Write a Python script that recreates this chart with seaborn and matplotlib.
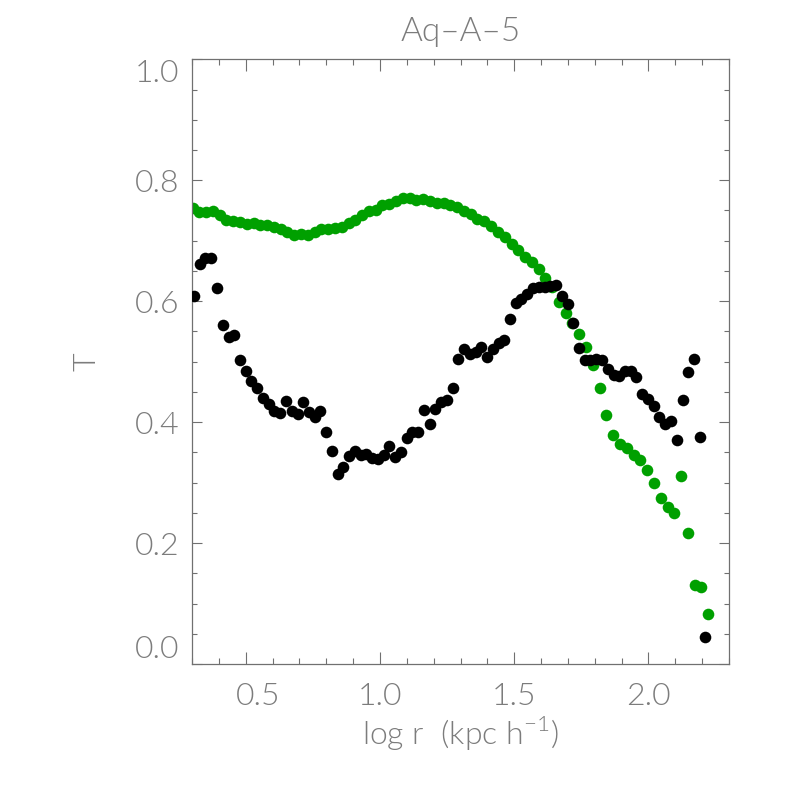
import numpy as np
import pandas as pd
import seaborn as sns
import matplotlib.pyplot as plt
from matplotlib.ticker import MultipleLocator
from matplotlib.transforms import ScaledTranslation

# green profile (log r, T)
logr_green = [0.302, 0.327, 0.352, 0.377, 0.403, 0.428, 0.453, 0.478, 0.504, 0.529,
              0.554, 0.580, 0.605, 0.630, 0.655, 0.681, 0.706, 0.731, 0.757, 0.782,
              0.807, 0.832, 0.858, 0.883, 0.908, 0.933, 0.959, 0.984, 1.009, 1.035,
              1.060, 1.085, 1.110, 1.136, 1.161, 1.186, 1.212, 1.237, 1.262, 1.287,
              1.313, 1.338, 1.363, 1.388, 1.414, 1.439, 1.464, 1.490, 1.515, 1.540,
              1.565, 1.591, 1.616, 1.641, 1.667, 1.692, 1.717, 1.742, 1.768, 1.793,
              1.818, 1.843, 1.869, 1.894, 1.919, 1.945, 1.970, 1.995, 2.020, 2.046,
              2.071, 2.096, 2.122, 2.147, 2.172, 2.197, 2.223]
T_green = [0.754, 0.748, 0.748, 0.749, 0.743, 0.734, 0.732, 0.731, 0.728, 0.729,
           0.726, 0.726, 0.723, 0.719, 0.715, 0.709, 0.711, 0.710, 0.715, 0.719,
           0.719, 0.721, 0.723, 0.729, 0.734, 0.743, 0.749, 0.751, 0.759, 0.760,
           0.765, 0.770, 0.771, 0.768, 0.769, 0.765, 0.763, 0.762, 0.759, 0.755,
           0.749, 0.744, 0.736, 0.732, 0.725, 0.715, 0.706, 0.695, 0.684, 0.673,
           0.665, 0.653, 0.639, 0.624, 0.598, 0.581, 0.564, 0.546, 0.525, 0.495,
           0.456, 0.412, 0.379, 0.364, 0.358, 0.346, 0.337, 0.321, 0.299, 0.275,
           0.260, 0.250, 0.311, 0.217, 0.131, 0.127, 0.083]

# black profile (log r, T)
logr_black = [0.307, 0.329, 0.350, 0.372, 0.393, 0.414, 0.436, 0.457, 0.479, 0.500,
              0.521, 0.543, 0.564, 0.586, 0.607, 0.628, 0.650, 0.671, 0.693, 0.714,
              0.735, 0.757, 0.778, 0.800, 0.821, 0.843, 0.864, 0.885, 0.907, 0.928,
              0.949, 0.971, 0.992, 1.014, 1.035, 1.056, 1.078, 1.099, 1.121, 1.142,
              1.164, 1.185, 1.206, 1.228, 1.249, 1.271, 1.292, 1.313, 1.335, 1.356,
              1.377, 1.399, 1.420, 1.442, 1.463, 1.484, 1.506, 1.527, 1.549, 1.570,
              1.592, 1.613, 1.634, 1.656, 1.677, 1.699, 1.720, 1.741, 1.763, 1.784,
              1.806, 1.827, 1.848, 1.870, 1.891, 1.913, 1.934, 1.955, 1.977, 1.998,
              2.020, 2.041, 2.062, 2.084, 2.105, 2.127, 2.148, 2.170, 2.191, 2.212]
T_black = [0.609, 0.662, 0.671, 0.671, 0.622, 0.560, 0.541, 0.544, 0.503, 0.484,
           0.468, 0.456, 0.440, 0.430, 0.419, 0.415, 0.435, 0.419, 0.414, 0.433,
           0.416, 0.408, 0.418, 0.383, 0.353, 0.315, 0.325, 0.344, 0.352, 0.346,
           0.347, 0.341, 0.339, 0.345, 0.360, 0.343, 0.350, 0.373, 0.383, 0.383,
           0.420, 0.397, 0.421, 0.434, 0.437, 0.456, 0.504, 0.521, 0.513, 0.516,
           0.524, 0.507, 0.521, 0.531, 0.535, 0.570, 0.597, 0.603, 0.612, 0.622,
           0.623, 0.624, 0.625, 0.626, 0.608, 0.595, 0.564, 0.523, 0.503, 0.503,
           0.505, 0.502, 0.488, 0.478, 0.477, 0.485, 0.484, 0.474, 0.446, 0.438,
           0.427, 0.408, 0.397, 0.402, 0.370, 0.437, 0.483, 0.505, 0.376, 0.044]

sns.set_style('ticks')
plt.rcParams['font.family'] = ['Lato', 'DejaVu Sans']
plt.rcParams['font.weight'] = 300
plt.rcParams['mathtext.fontset'] = 'custom'
plt.rcParams['mathtext.rm'] = 'Lato:weight=300'
txt = '#7c7c7c'
axc = '#707070'
fw = 300

fig = plt.figure(figsize=(7.86, 7.86), dpi=100)
ax = fig.add_axes([0.2443, 0.1552, 0.6832, 0.7694])

green = pd.DataFrame({'logr': logr_green, 'T': T_green})
black = pd.DataFrame({'logr': logr_black, 'T': T_black})
sns.scatterplot(x='logr', y='T', data=green, color='#00a000', s=70, linewidth=0, ax=ax, zorder=2)
sns.scatterplot(x='logr', y='T', data=black, color='black', s=70, linewidth=0, ax=ax, zorder=3)

ax.set_xlim(0.3, 2.3)
ax.set_ylim(0.0, 1.0)
ax.xaxis.set_major_locator(MultipleLocator(0.5))
ax.xaxis.set_minor_locator(MultipleLocator(0.1))
ax.yaxis.set_major_locator(MultipleLocator(0.2))
ax.yaxis.set_minor_locator(MultipleLocator(0.05))
ax.tick_params(axis='x', which='major', direction='in', length=8.6, width=0.8,
               color=axc, top=True, labelsize=23, labelcolor=txt, pad=13)
ax.tick_params(axis='x', which='minor', direction='in', length=4.3, width=0.8,
               color=axc, top=True)
ax.tick_params(axis='y', which='major', direction='in', length=7.2, width=0.8,
               color=axc, right=True, labelsize=23, labelcolor=txt, pad=9)
ax.tick_params(axis='y', which='minor', direction='in', length=3.8, width=0.8,
               color=axc, right=True)
for sp in ax.spines.values():
    sp.set_color(axc)
    sp.set_linewidth(0.9)

ax.set_xticks([0.5, 1.0, 1.5, 2.0])
ax.set_xticklabels(['0.5', '1.0', '1.5', '2.0'], fontweight=fw)
ax.set_yticks([0.0, 0.2, 0.4, 0.6, 0.8, 1.0])
ax.set_yticklabels(['0.0', '0.2', '0.4', '0.6', '0.8', '1.0'], fontweight=fw)
ylabs = ax.get_yticklabels()
ylabs[0].set_va('bottom')
ylabs[-1].set_va('top')
# the first x label sits a little right of its tick in the original
xl0 = ax.get_xticklabels()[0]
xl0.set_transform(xl0.get_transform() + ScaledTranslation(0.12, 0, fig.dpi_scale_trans))

ax.set_xlabel(r'log r  (kpc h$^{-1}$)', fontsize=23, color=txt, labelpad=2, fontweight=fw)
ax.set_ylabel('T', fontsize=23, color=txt, labelpad=24, rotation=90, fontweight=fw)
ax.set_title('Aq–A–5', fontsize=24, color=txt, pad=13, fontweight=fw)

fig.savefig('out.png', dpi=100, facecolor='white')
